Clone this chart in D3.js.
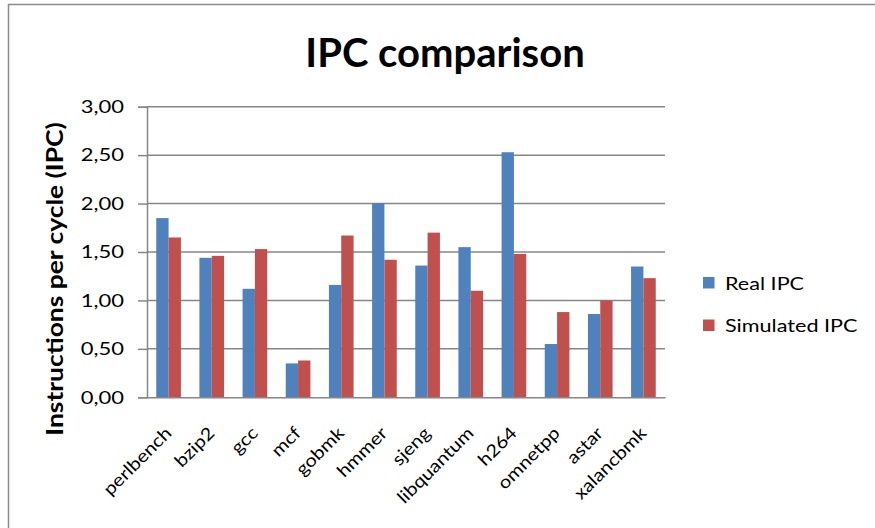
<!DOCTYPE html>
<html>
<head>
<meta charset="utf-8">
<script src="https://cdn.jsdelivr.net/npm/d3@7"></script>
<style>
  html, body { margin: 0; padding: 0; background: #fff; }
  svg { display: block; }
  text { font-family: Lato, Carlito, Calibri, "Open Sans", sans-serif; }
</style>
</head>
<body>
<svg id="chart" width="875" height="528"></svg>
<script>
// Benchmarks (SPEC CPU2006 integer)
const categories = ["perlbench", "bzip2", "gcc", "mcf", "gobmk", "hmmer", "sjeng",
                    "libquantum", "h264", "omnetpp", "astar", "xalancbmk"];
const seriesNames = ["Real IPC", "Simulated IPC"];
const realIPC      = [1.85, 1.44, 1.12, 0.35, 1.16, 2.00, 1.36, 1.55, 2.53, 0.55, 0.86, 1.35];
const simulatedIPC = [1.65, 1.46, 1.53, 0.38, 1.67, 1.42, 1.70, 1.10, 1.48, 0.88, 1.00, 1.23];
const yTicks = [0, 0.5, 1.0, 1.5, 2.0, 2.5, 3.0];
const colors = ["#4F81BD", "#C0504D"];

const rows = categories.map((c, i) => ({ name: c, values: [realIPC[i], simulatedIPC[i]] }));

const svg = d3.select("#chart");
const plot = { left: 147, right: 665, top: 106.7, bottom: 397.3 };

// widen small labels horizontally (Calibri-like GDI rendering is wider than Lato)
function widen(sel, k) {
  sel.each(function () {
    const len = this.getComputedTextLength();
    d3.select(this).attr("textLength", len * k).attr("lengthAdjust", "spacingAndGlyphs");
  });
}

// outer chart frame
svg.append("rect")
  .attr("x", 8.5).attr("y", 4.5)
  .attr("width", 900).attr("height", 600)
  .attr("fill", "#fff").attr("stroke", "#8c8c8c").attr("stroke-width", 1.5);

// title
svg.append("text")
  .attr("x", 445).attr("y", 66.5)
  .attr("text-anchor", "middle")
  .attr("font-size", 40).attr("font-weight", "bold").attr("fill", "#000")
  .text("IPC comparison");

const x0 = d3.scaleBand().domain(categories).range([plot.left, plot.right]).padding(0);
const barW = x0.bandwidth() / 3.5;
const x1 = d3.scaleBand().domain(d3.range(seriesNames.length))
  .range([0.75 * barW, 0.75 * barW + 2 * barW]).padding(0);
const y = d3.scaleLinear().domain([0, 3]).range([plot.bottom, plot.top]);

// gridlines
svg.append("g").selectAll("line")
  .data(yTicks.filter(t => t > 0))
  .join("line")
  .attr("x1", plot.left).attr("x2", plot.right)
  .attr("y1", d => y(d)).attr("y2", d => y(d))
  .attr("stroke", "#868686").attr("stroke-width", 1.5);

// y axis
const yAxis = d3.axisLeft(y)
  .tickValues(yTicks)
  .tickSize(9)
  .tickPadding(14)
  .tickFormat(d => d3.format(".2f")(d).replace(".", ","));
const gy = svg.append("g").attr("transform", `translate(${plot.left},0)`).call(yAxis);
gy.select(".domain").attr("stroke", "#868686").attr("stroke-width", 1.5);
gy.selectAll(".tick line").attr("stroke", "#868686").attr("stroke-width", 1.5);
gy.selectAll(".tick text")
  .attr("font-size", 18).attr("fill", "#000")
  .attr("font-family", "Lato, Carlito, Calibri, sans-serif")
  .call(widen, 1.22);

// bars
svg.append("g").selectAll("g")
  .data(rows)
  .join("g")
  .attr("transform", d => `translate(${x0(d.name)},0)`)
  .selectAll("rect")
  .data(d => d.values.map((v, i) => ({ v, i })))
  .join("rect")
  .attr("x", d => x1(d.i))
  .attr("width", x1.bandwidth())
  .attr("y", d => y(d.v))
  .attr("height", d => y(0) - y(d.v))
  .attr("fill", d => colors[d.i]);

// x axis baseline and category labels
const xAxis = d3.axisBottom(x0).tickSize(0).tickPadding(0);
const gx = svg.append("g").attr("transform", `translate(0,${plot.bottom})`).call(xAxis);
gx.select(".domain").attr("stroke", "#868686").attr("stroke-width", 1.5);
gx.selectAll(".tick text")
  .attr("font-size", 17.5).attr("fill", "#000")
  .attr("font-family", "Lato, Carlito, Calibri, sans-serif")
  .attr("text-anchor", "end")
  .attr("dy", 0)
  .attr("y", 0)
  .attr("transform", "translate(4,37) rotate(-45)")
  .call(widen, 1.15);

// y axis title
svg.append("text")
  .attr("transform", "translate(63,279) rotate(-90)")
  .attr("text-anchor", "middle")
  .attr("font-size", 22).attr("font-weight", "bold").attr("fill", "#000")
  .text("Instructions per cycle (IPC)")
  .call(widen, 1.2);

// legend
const legend = svg.append("g").selectAll("g")
  .data(seriesNames)
  .join("g")
  .attr("transform", (d, i) => `translate(703,${277 + i * 42.5})`);
legend.append("rect")
  .attr("width", 11.5).attr("height", 11.5)
  .attr("fill", (d, i) => colors[i]);
legend.append("text")
  .attr("x", 22).attr("y", 12.5)
  .attr("font-size", 18).attr("fill", "#000")
  .text(d => d)
  .call(widen, 1.2);
</script>
</body>
</html>
